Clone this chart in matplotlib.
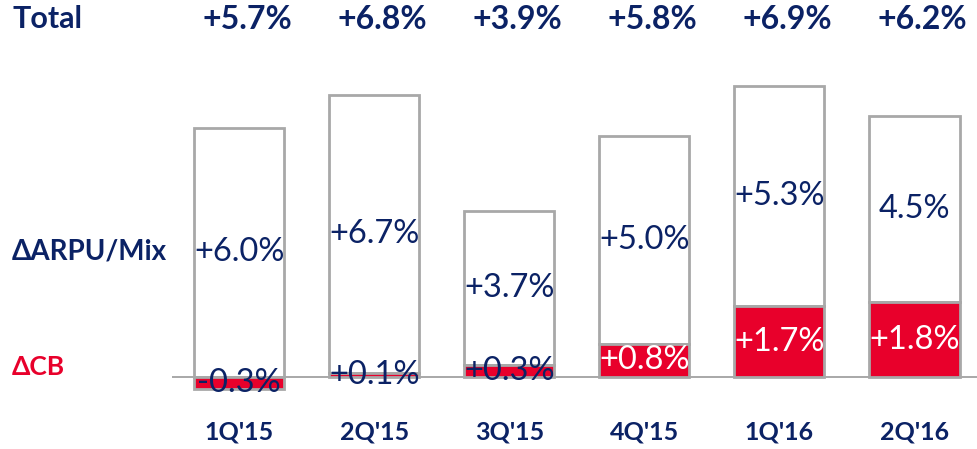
import matplotlib
matplotlib.use('Agg')
import matplotlib.pyplot as plt

# Quarterly growth decomposition: customer base (CB) vs ARPU/mix
quarters = ["1Q'15", "2Q'15", "3Q'15", "4Q'15", "1Q'16", "2Q'16"]
cb_growth = [-0.3, 0.1, 0.3, 0.8, 1.7, 1.8]
arpu_growth = [6.0, 6.7, 3.7, 5.0, 5.3, 4.5]
total_growth = [5.7, 6.8, 3.9, 5.8, 6.9, 6.2]
arpu_labels = ['+6.0%', '+6.7%', '+3.7%', '+5.0%', '+5.3%', '4.5%']
cb_labels = ['-0.3%', '+0.1%', '+0.3%', '+0.8%', '+1.7%', '+1.8%']
total_labels = ['+5.7%', '+6.8%', '+3.9%', '+5.8%', '+6.9%', '+6.2%']

NAVY = '#0b2265'
RED = '#e8002b'
EDGE = '#a8a8a8'

plt.rcParams['font.family'] = ['Lato', 'DejaVu Sans']

fig = plt.figure(figsize=(9.78, 4.49), dpi=100)
ax = fig.add_axes([0, 0, 1, 1])
ax.set_xlim(-1.770, 5.470)
ax.set_ylim(-1.735, 9.084)
ax.axis('off')

x = list(range(len(quarters)))
width = 0.667
arpu_bottom = [max(c, 0) for c in cb_growth]

ax.hlines(0, -0.496, 5.47, color='#999999', lw=1.2, zorder=1)
ax.bar(x, arpu_growth, width, bottom=arpu_bottom, color='white',
       edgecolor=EDGE, linewidth=2, zorder=2)
ax.bar(x, cb_growth, width, color=RED, edgecolor=EDGE, linewidth=2, zorder=3)

for i in x:
    # ARPU/mix label in the middle of the white segment
    ax.text(i, arpu_bottom[i] + arpu_growth[i] / 2, arpu_labels[i],
            ha='center', va='center', fontsize=23.5, color=NAVY, zorder=4)
    # CB label in the middle of the red segment
    small = abs(cb_growth[i]) < 0.5
    ax.text(i, cb_growth[i] / 2, cb_labels[i], ha='center', va='center',
            fontsize=23.5, color=NAVY if small else 'white', zorder=4)
    ax.text(i + 0.06, 8.62, total_labels[i], ha='center', va='center',
            fontsize=23, fontweight='bold', color=NAVY)
    ax.text(i, -1.33, quarters[i], ha='center', va='center',
            fontsize=18, fontweight='bold', color=NAVY)

ax.text(-1.68, 8.62, 'Total', ha='left', va='center', fontsize=22,
        fontweight='bold', color=NAVY)
ax.text(-1.68, (377 - 252) / 41.5, '\u0394ARPU/Mix', ha='left', va='center',
        fontsize=20, fontweight='bold', color=NAVY)
ax.text(-1.68, (377 - 367) / 41.5, '\u0394CB', ha='left', va='center',
        fontsize=19, fontweight='bold', color=RED)

fig.savefig('out.png', dpi=100)
